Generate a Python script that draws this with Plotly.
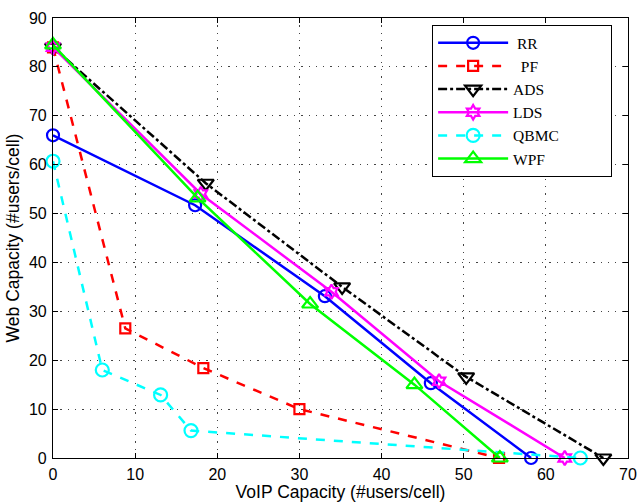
import plotly.graph_objects as go

# Data
rr_x = [0, 17.3, 33.1, 46.0, 58.2]
rr_y = [66, 51.7, 33.1, 15.3, 0]
pf_x = [0, 8.8, 18.3, 30.0, 54.3]
pf_y = [84, 26.5, 18.4, 10.0, 0]
ads_x = [0, 18.6, 35.2, 50.3, 67.0]
ads_y = [84, 56.2, 35.0, 16.6, 0]
lds_x = [0, 18.0, 33.9, 47.0, 62.3]
lds_y = [84, 54.0, 34.0, 15.7, 0]
qbmc_x = [0, 6.0, 13.1, 16.8, 64.2]
qbmc_y = [60.7, 18.0, 12.9, 5.6, 0]
wpf_x = [0, 17.6, 31.3, 44.0, 54.4]
wpf_y = [84.5, 53.2, 31.5, 15.0, 0]

x_ticks = [0, 10, 20, 30, 40, 50, 60, 70]
y_ticks = [0, 10, 20, 30, 40, 50, 60, 70, 80, 90]

NB = "\u00a0"
series = [
    ("RR", NB + "RR" + NB * 14, rr_x, rr_y, "#0000ff", "solid", "circle-open", 12),
    ("PF", NB * 2 + "PF" + NB * 14, pf_x, pf_y, "#ff0000", "dash", "square-open", 10),
    ("ADS", "ADS" + NB * 14, ads_x, ads_y, "#000000", "dashdot", "triangle-down-open", 14),
    ("LDS", "LDS" + NB * 14, lds_x, lds_y, "#ff00ff", "solid", "hexagram-open", 11),
    ("QBMC", "QBMC" + NB * 12, qbmc_x, qbmc_y, "#00ffff", "dash", "circle-open", 13),
    ("WPF", "WPF" + NB * 14, wpf_x, wpf_y, "#00ff00", "solid", "triangle-up-open", 14),
]

fig = go.Figure()
for key, label, xs, ys, col, dash, sym, sz in series:
    fig.add_trace(go.Scatter(
        x=xs, y=ys, name=label, mode="lines+markers", cliponaxis=False,
        line=dict(color=col, width=2.5, dash=dash),
        marker=dict(symbol=sym, size=sz, color=col, line=dict(color=col, width=2.2)),
    ))

axis_common = dict(
    showline=True, linecolor="black", linewidth=1.2, mirror="ticks",
    ticks="inside", ticklen=5, tickcolor="black",
    showgrid=True, gridcolor="#444444", griddash="1.3px,6px", gridwidth=1,
    zeroline=False, automargin=False,
    tickfont=dict(family="Liberation Sans, Arial", size=16, color="black"),
)

title_font = dict(family="Liberation Sans, Arial", size=17.5, color="black")

fig.update_layout(
    width=640, height=502,
    margin=dict(l=53, r=12, t=18, b=44),
    paper_bgcolor="white", plot_bgcolor="white",
    xaxis=dict(range=[0, 70], tickvals=x_ticks, ticklabelstandoff=2,
               title=dict(text="VoIP Capacity (#users/cell)", standoff=3, font=title_font),
               **axis_common),
    yaxis=dict(range=[0, 90], tickvals=y_ticks, ticklabelstandoff=2,
               title=dict(text="Web Capacity (#users/cell)", standoff=4, font=title_font),
               **axis_common),
    legend=dict(x=0.659, y=0.984, xanchor="left", yanchor="top",
                bgcolor="white", bordercolor="black", borderwidth=1.2,
                font=dict(family="Liberation Serif, Times New Roman", size=15.5, color="black"),
                itemwidth=70, tracegroupgap=0),
    showlegend=True,
    hovermode=False,
)

fig.write_html("out.html", config={"displayModeBar": False},
               post_script="document.body.style.margin='0';document.body.style.padding='0';")
